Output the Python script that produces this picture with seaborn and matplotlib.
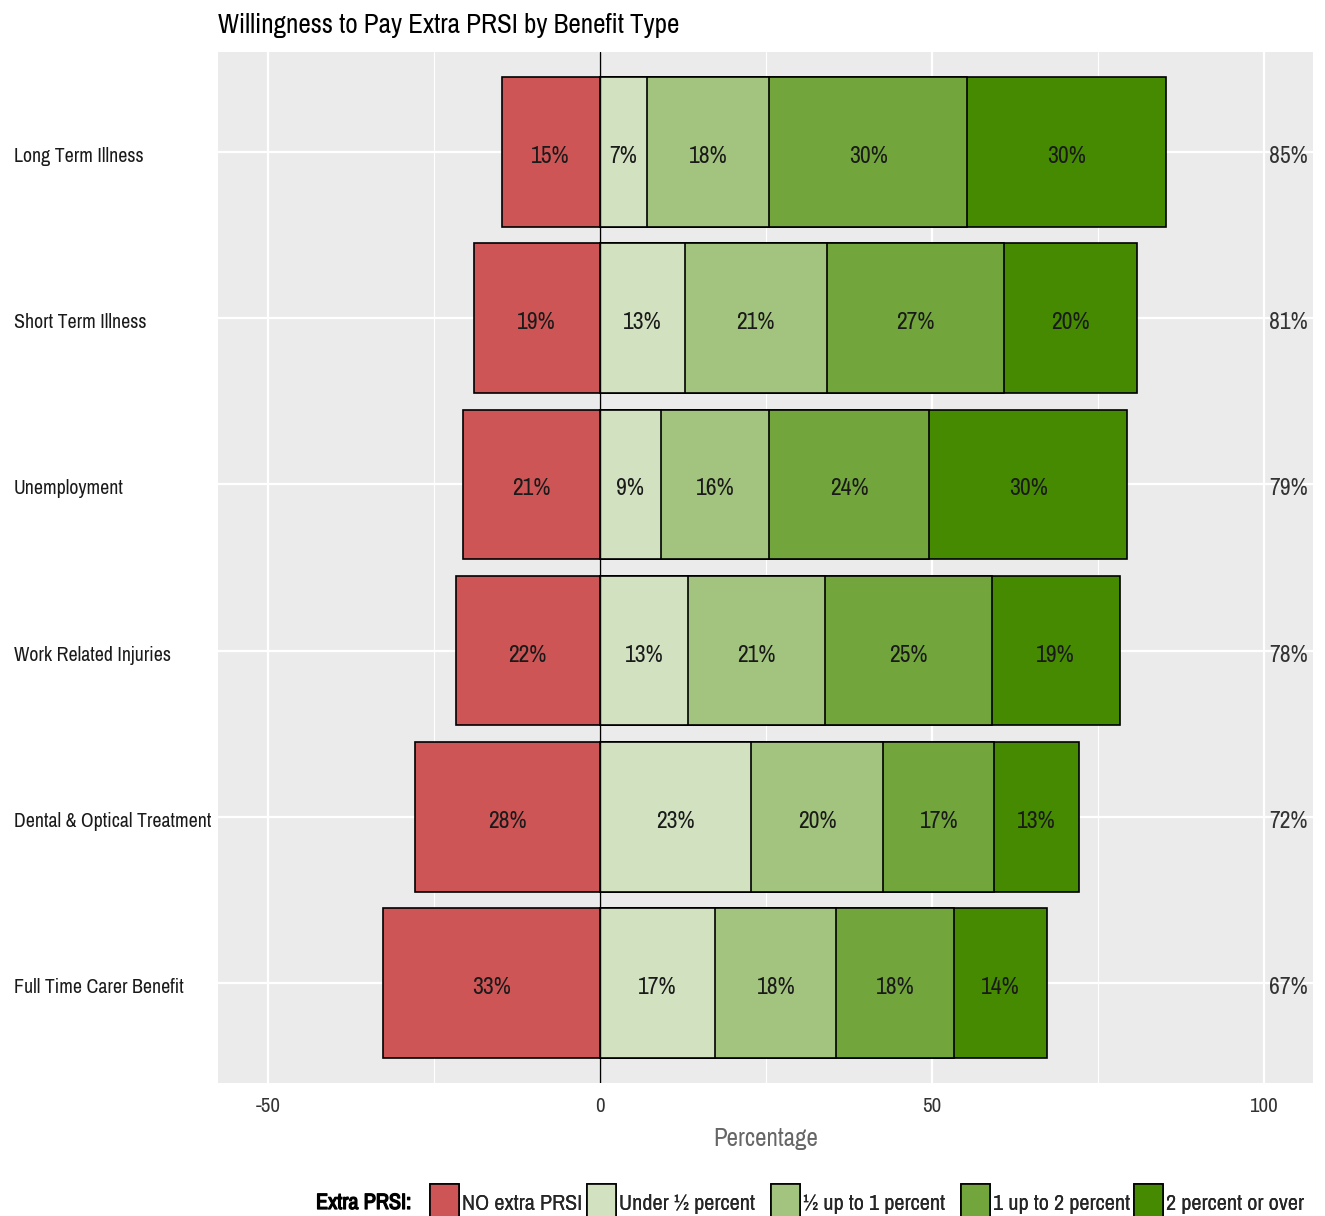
import numpy as np
import pandas as pd
import seaborn as sns
import matplotlib.pyplot as plt
import matplotlib.patheffects as pe
from matplotlib.patches import Patch
from matplotlib.transforms import blended_transform_factory

sns.set_theme(style="darkgrid")
plt.rcParams['font.family'] = ['Liberation Sans Narrow', 'Archivo Narrow', 'DejaVu Sans']
plt.rcParams['axes.unicode_minus'] = False

# Data (percent of respondents)
benefits = ["Long Term Illness", "Short Term Illness", "Unemployment",
            "Work Related Injuries", "Dental & Optical Treatment",
            "Full Time Carer Benefit"]
levels = ["NO extra PRSI", "Under \u00bd percent", "\u00bd up to 1 percent",
          "1 up to 2 percent", "2 percent or over"]
no_extra = [14.8, 19.0, 20.6, 21.7, 27.9, 32.6]
under_half = [7.1, 12.8, 9.2, 13.3, 22.7, 17.4]
half_to_one = [18.4, 21.4, 16.3, 20.6, 20.0, 18.2]
one_to_two = [29.8, 26.6, 24.1, 25.1, 16.7, 17.8]
two_plus = [30.0, 20.1, 29.8, 19.3, 12.7, 13.9]
colors = ["#CD5555", "#D2E2C1", "#A3C47E", "#72A63C", "#458A00"]

df = pd.DataFrame({"benefit": benefits, "no": no_extra, "u": under_half,
                   "h": half_to_one, "o": one_to_two, "t": two_plus})
pos_cols = ["u", "h", "o", "t"]
cum = df[pos_cols].cumsum(axis=1)
df["total"] = df[pos_cols].sum(axis=1)

fig = plt.figure(figsize=(13.25, 12.16), dpi=100)
ax = fig.add_axes([218 / 1325, 1 - 1083 / 1216, (1313 - 218) / 1325, (1083 - 52) / 1216])
ax.set_facecolor("#EBEBEB")

# Positive side: draw cumulative bars from the longest down so they stack
for col, colr in reversed(list(zip(pos_cols, colors[1:]))):
    sns.barplot(x=cum[col], y=df["benefit"], order=benefits, orient="h",
                color=colr, width=0.9, edgecolor="black", linewidth=1.2,
                saturation=1, ax=ax)
# Negative side
sns.barplot(x=-df["no"], y=df["benefit"], order=benefits, orient="h",
            color=colors[0], width=0.9, edgecolor="black", linewidth=1.2,
            saturation=1, ax=ax)

ax.axvline(0, color="black", lw=1, zorder=1.5)

# Segment labels
dy = 0.015
for i, row in df.iterrows():
    ax.text(-row["no"] / 2, i + dy, f"{round(row['no'])}%", ha="center",
            va="center_baseline", fontsize=17, color="#1a1a1a")
    left = 0
    for col in pos_cols:
        ax.text(left + row[col] / 2, i + dy, f"{round(row[col])}%", ha="center",
                va="center_baseline", fontsize=17, color="#1a1a1a")
        left += row[col]
    ax.text(106.6, i + dy, f"{round(row['total'])}%", ha="right",
            va="center_baseline", fontsize=17, color="#333333")

ax.set_xlim(-57.5, 107.4)
ax.set_ylim(5.6, -0.6)
ax.set_xticks([-50, 0, 50, 100])
ax.set_xticks([-25, 25, 75], minor=True)
ax.grid(True, which="major", color="white", lw=1.6)
ax.grid(True, which="minor", axis="x", color="white", lw=0.8)
ax.set_axisbelow(True)
ax.tick_params(axis="x", length=0, labelsize=15, labelcolor="#333333", pad=10)
ax.set_yticklabels([])
ax.tick_params(axis="y", length=0)
ax.set_ylabel("")
ax.set_xlabel("Percentage", fontsize=18, color="#666666", labelpad=8)
for s in ax.spines.values():
    s.set_visible(False)

# Category labels, left aligned at the figure edge
tr = blended_transform_factory(fig.transFigure, ax.transData)
for i, b in enumerate(benefits):
    ax.text(14 / 1325, i + dy, b, transform=tr, ha="left", va="center_baseline",
            fontsize=14.3, color="#1a1a1a")

fig.text(218 / 1325, 1 - 25 / 1216, "Willingness to Pay Extra PRSI by Benefit Type",
         ha="left", va="center", fontsize=19.5, color="black")

# Legend, one entry per key so spacing follows the original
fig.text(316 / 1325, 1 - 1203 / 1216, "Extra PRSI:", ha="left", va="center",
         fontsize=16, color="black",
         path_effects=[pe.withStroke(linewidth=0.9, foreground="black")])
key_x = [430, 587, 771, 961, 1134]
for kx, c, lab in zip(key_x, colors, levels):
    leg = fig.legend([Patch(facecolor=c, edgecolor="black", lw=1.2)], [lab],
                     loc="center left", bbox_to_anchor=(kx / 1325, 1 - 1203 / 1216),
                     frameon=False, fontsize=16, handlelength=1.3, handleheight=2.2,
                     handletextpad=0.15, borderpad=0, borderaxespad=0)
    fig.add_artist(leg)

fig.savefig("out.png", dpi=100)
